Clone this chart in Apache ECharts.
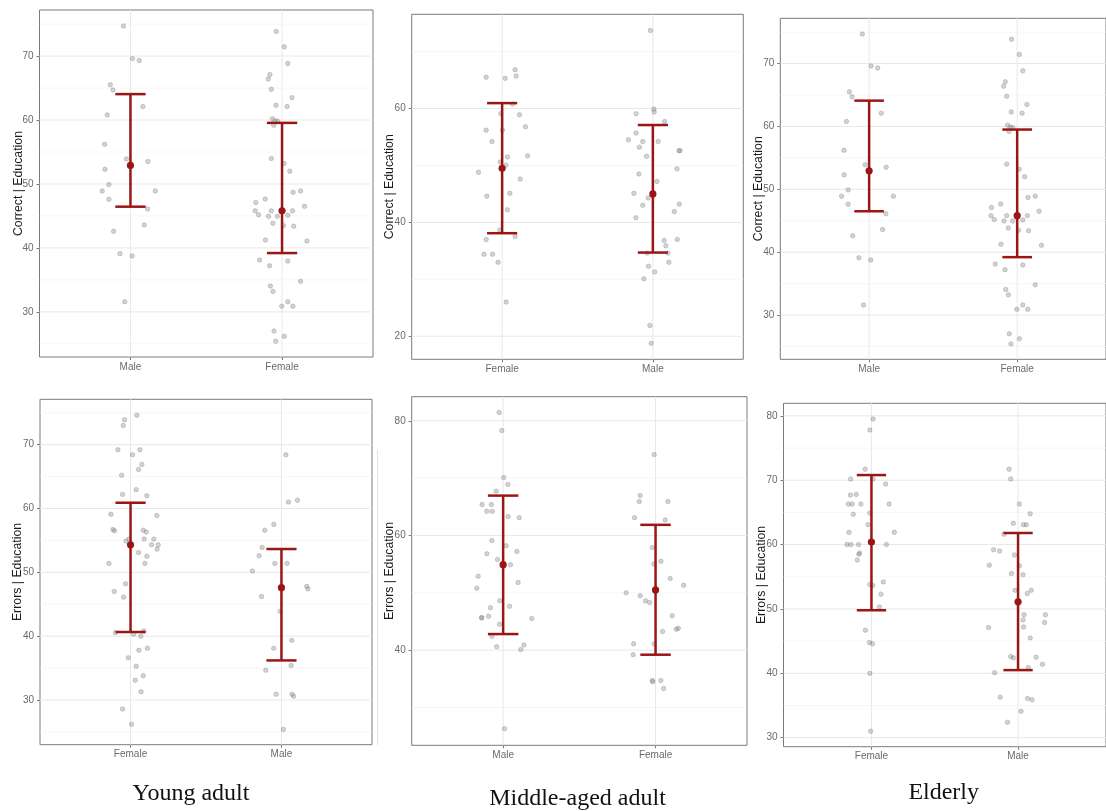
<!DOCTYPE html>
<html><head><meta charset="utf-8">
<script src="https://cdn.jsdelivr.net/npm/echarts@6/dist/echarts.min.js"></script>
<style>html,body{margin:0;padding:0;background:#fff}#c{width:1106px;height:811px}</style>
</head><body><div id="c"></div>
<script>
// ===== DATA =====
// point arrays: [jitter offset from category centre, value]
const youngCorrectCats = ['Male', 'Female'];
const youngCorrectMale = [[-0.046,74.7],[0.013,69.6],[0.058,69.3],[-0.133,65.5],[-0.115,64.7],[-0.153,60.8],[0.082,62.1],[-0.17,56.2],[-0.168,52.3],[-0.027,53.9],[0.115,53.5],[-0.142,49.9],[-0.186,48.9],[0.164,48.9],[-0.142,47.6],[0.113,46.1],[-0.111,42.6],[0.091,43.6],[-0.069,39.1],[0.011,38.75],[-0.038,31.6]];
const youngCorrectFemale = [[-0.038,73.85],[0.015,71.45],[0.038,68.85],[-0.08,67.1],[-0.091,66.4],[-0.071,64.8],[0.066,63.5],[-0.04,62.3],[0.033,62.1],[-0.064,60.2],[-0.046,59.9],[-0.029,59.8],[-0.055,59.2],[-0.071,54.0],[0.013,53.2],[0.051,52.0],[0.073,48.7],[0.122,48.9],[0.148,46.5],[-0.173,47.1],[-0.111,47.65],[-0.177,45.8],[-0.155,45.2],[-0.071,45.8],[-0.089,44.95],[-0.031,44.95],[-0.06,43.85],[0.009,43.5],[0.038,45.1],[0.069,45.8],[0.077,43.4],[0.164,41.1],[-0.109,41.25],[-0.148,38.1],[-0.082,37.2],[0.038,37.95],[0.122,34.8],[-0.077,34.05],[-0.06,33.2],[-0.002,30.9],[0.038,31.6],[0.071,30.9],[-0.053,27.0],[-0.042,25.4],[0.015,26.2]];
const youngCorrectMean = [52.9, 45.8];
const youngCorrectLower = [46.45, 39.2];
const youngCorrectUpper = [64.05, 59.55];
const youngCorrectTicks = [30, 40, 50, 60, 70];

const middleCorrectCats = ['Female', 'Male'];
const middleCorrectFemale = [[-0.106,65.5],[0.02,65.3],[0.086,66.8],[0.093,65.7],[0.069,60.8],[-0.009,59.1],[0.115,58.9],[0.155,56.8],[-0.106,56.2],[0.002,56.2],[-0.067,54.2],[0.035,51.5],[0.169,51.7],[-0.013,50.6],[0.024,50.05],[-0.157,48.8],[0.12,47.6],[-0.102,44.6],[0.051,45.1],[0.035,42.2],[-0.016,38.65],[-0.106,37.0],[0.086,37.5],[-0.12,34.4],[-0.064,34.4],[-0.027,33.0],[0.027,26.0]];
const middleCorrectMale = [[-0.016,73.7],[-0.111,59.1],[0.007,59.9],[0.009,59.4],[0.078,57.7],[-0.111,55.7],[-0.162,54.5],[-0.067,54.2],[0.035,54.2],[-0.089,53.2],[-0.042,51.6],[0.173,52.6],[0.18,52.6],[0.16,49.4],[-0.093,48.5],[0.027,47.2],[-0.126,45.1],[-0.031,44.3],[-0.067,43.0],[0.175,43.2],[0.142,41.9],[-0.113,40.8],[0.075,36.8],[0.162,37.0],[0.086,35.9],[0.1,34.6],[-0.038,34.6],[0.106,33.0],[-0.029,32.3],[0.013,31.3],[-0.06,30.1],[-0.02,21.9],[-0.011,18.75]];
const middleCorrectMean = [49.5, 45.0];
const middleCorrectLower = [38.1, 34.7];
const middleCorrectUpper = [60.95, 57.1];
const middleCorrectTicks = [20, 40, 60];

const elderlyCorrectCats = ['Male', 'Female'];
const elderlyCorrectMale = youngCorrectMale;     // the picture repeats the same panel
const elderlyCorrectFemale = youngCorrectFemale;
const elderlyCorrectMean = [52.95, 45.8];
const elderlyCorrectLower = [46.5, 39.2];
const elderlyCorrectUpper = [64.1, 59.5];
const elderlyCorrectTicks = [30, 40, 50, 60, 70];

const youngErrorsCats = ['Female', 'Male'];
const youngErrorsFemale = [[0.042,74.6],[-0.04,73.9],[-0.048,73.0],[-0.084,69.2],[0.062,69.2],[0.013,68.4],[0.075,66.9],[0.053,66.1],[-0.059,65.2],[0.037,62.95],[-0.053,62.2],[0.108,62.0],[-0.13,59.1],[0.174,58.9],[-0.117,56.7],[-0.106,56.5],[0.084,56.6],[0.104,56.3],[-0.031,54.9],[-0.011,55.2],[0.09,55.2],[0.154,55.2],[0.139,54.3],[0.183,54.3],[0.176,53.65],[0.053,53.1],[0.108,52.5],[0.095,51.4],[-0.143,51.4],[-0.033,48.2],[-0.108,47.0],[-0.046,46.1],[-0.101,40.55],[0.02,40.3],[0.088,40.8],[0.068,40.0],[0.055,37.8],[0.112,38.1],[-0.015,36.6],[0.037,35.3],[0.084,33.8],[0.031,33.1],[0.07,31.3],[-0.053,28.6],[0.007,26.2]];
const youngErrorsMale = [[0.029,68.4],[0.046,61.0],[0.106,61.3],[-0.051,57.5],[-0.11,56.6],[-0.128,53.9],[-0.148,52.6],[-0.044,51.4],[0.037,51.4],[-0.192,50.2],[0.167,47.8],[0.176,47.4],[-0.132,46.2],[-0.009,43.9],[0.068,39.35],[-0.051,38.1],[-0.104,34.65],[0.064,35.4],[-0.035,30.9],[0.07,30.9],[0.081,30.6],[0.013,25.4]];
const youngErrorsMean = [54.3, 47.6];
const youngErrorsLower = [40.65, 36.2];
const youngErrorsUpper = [60.9, 53.65];
const youngErrorsTicks = [30, 40, 50, 60, 70];

const middleErrorsCats = ['Male', 'Female'];
const middleErrorsMale = [[-0.026,81.45],[-0.009,78.3],[0.004,70.1],[0.031,68.9],[-0.046,67.7],[-0.138,65.4],[-0.077,65.4],[-0.107,64.2],[-0.072,64.2],[0.033,63.3],[0.105,63.1],[-0.074,59.1],[0.02,58.2],[0.09,57.2],[-0.107,56.8],[-0.037,55.8],[0.048,54.9],[-0.164,52.9],[-0.173,50.8],[0.098,51.8],[-0.022,48.6],[0.042,47.65],[-0.083,47.4],[-0.142,45.7],[-0.14,45.6],[-0.096,45.9],[0.188,45.5],[-0.024,44.5],[-0.074,42.4],[0.136,40.9],[-0.042,40.6],[0.116,40.1],[0.009,26.3]];
const middleErrorsFemale = [[-0.009,74.1],[-0.101,66.95],[-0.107,65.9],[0.081,65.9],[-0.138,63.1],[0.063,62.7],[-0.022,57.9],[0.035,55.5],[-0.011,55.0],[0.096,52.5],[0.184,51.3],[-0.193,50.0],[-0.101,49.5],[-0.066,48.6],[-0.039,48.3],[0.109,46.0],[0.136,43.65],[0.149,43.8],[0.046,43.25],[-0.144,41.1],[-0.009,41.1],[-0.147,39.2],[-0.022,34.7],[-0.018,34.5],[0.035,34.7],[0.053,33.3]];
const middleErrorsMean = [54.9, 50.5];
const middleErrorsLower = [42.8, 39.2];
const middleErrorsUpper = [66.95, 61.85];
const middleErrorsTicks = [40, 60, 80];

const elderlyErrorsCats = ['Female', 'Male'];
const elderlyErrorsFemale = [[0.011,79.5],[-0.011,77.8],[-0.043,71.7],[-0.142,70.2],[0.011,70.2],[0.097,69.4],[-0.144,67.7],[-0.104,67.8],[-0.158,66.3],[-0.131,66.3],[-0.072,66.3],[0.12,66.3],[-0.124,64.7],[-0.011,64.9],[-0.023,63.1],[-0.153,61.9],[0.156,61.9],[-0.167,60.0],[-0.14,60.0],[-0.088,60.0],[0.102,60.0],[-0.081,58.7],[-0.086,58.5],[-0.097,57.6],[0.081,54.2],[-0.011,53.8],[0.009,53.65],[0.065,52.3],[0.054,50.3],[-0.041,46.7],[-0.014,44.8],[0.007,44.6],[-0.011,40.0],[-0.005,31.0]];
const elderlyErrorsMale = [[-0.061,71.7],[-0.05,70.2],[0.009,66.3],[0.083,64.8],[-0.032,63.3],[0.036,63.1],[0.056,63.1],[-0.097,61.6],[-0.167,59.2],[-0.126,59.0],[-0.025,58.4],[-0.196,56.8],[0.009,56.7],[-0.045,55.5],[0.034,55.3],[-0.02,52.9],[0.09,52.9],[0.063,52.4],[0.041,49.1],[0.187,49.1],[0.034,48.3],[0.181,47.9],[-0.201,47.1],[0.038,47.2],[0.083,45.5],[-0.05,42.6],[-0.032,42.4],[0.124,42.5],[0.167,41.4],[0.07,40.9],[-0.16,40.1],[-0.122,36.3],[0.065,36.1],[0.095,35.9],[0.02,34.1],[-0.072,32.4]];
const elderlyErrorsMean = [60.4, 51.1];
const elderlyErrorsLower = [49.8, 40.5];
const elderlyErrorsUpper = [70.8, 61.8];
const elderlyErrorsTicks = [30, 40, 50, 60, 70, 80];

const correctTitle = 'Correct | Education';
const errorsTitle = 'Errors | Education';
const groupLabels = ['Young adult', 'Middle-aged adult', 'Elderly'];

// ===== PANELS (data references) =====
const panels = [
  {cats: youngCorrectCats, groups: [youngCorrectMale, youngCorrectFemale], mean: youngCorrectMean, lo: youngCorrectLower, hi: youngCorrectUpper, ticks: youngCorrectTicks, title: correctTitle},
  {cats: middleCorrectCats, groups: [middleCorrectFemale, middleCorrectMale], mean: middleCorrectMean, lo: middleCorrectLower, hi: middleCorrectUpper, ticks: middleCorrectTicks, title: correctTitle},
  {cats: elderlyCorrectCats, groups: [elderlyCorrectMale, elderlyCorrectFemale], mean: elderlyCorrectMean, lo: elderlyCorrectLower, hi: elderlyCorrectUpper, ticks: elderlyCorrectTicks, title: correctTitle},
  {cats: youngErrorsCats, groups: [youngErrorsFemale, youngErrorsMale], mean: youngErrorsMean, lo: youngErrorsLower, hi: youngErrorsUpper, ticks: youngErrorsTicks, title: errorsTitle},
  {cats: middleErrorsCats, groups: [middleErrorsMale, middleErrorsFemale], mean: middleErrorsMean, lo: middleErrorsLower, hi: middleErrorsUpper, ticks: middleErrorsTicks, title: errorsTitle},
  {cats: elderlyErrorsCats, groups: [elderlyErrorsFemale, elderlyErrorsMale], mean: elderlyErrorsMean, lo: elderlyErrorsLower, hi: elderlyErrorsUpper, ticks: elderlyErrorsTicks, title: errorsTitle}
];

// ===== LAYOUT / STYLE =====
const layouts = [
  {left: 39.5, top: 10, width: 333.5, height: 347, min: 22.95, max: 77.2, gap: 15},
  {left: 411.7, top: 14.3, width: 331.6, height: 345, min: 15.95, max: 76.55, gap: 16},
  {left: 780.3, top: 18.3, width: 329.3, height: 341, min: 22.95, max: 77.2, gap: 16},
  {left: 40, top: 399.3, width: 332, height: 345.4, min: 23.0, max: 77.1, gap: 16},
  {left: 411.7, top: 396.7, width: 335.3, height: 348.6, min: 23.4, max: 84.2, gap: 16},
  {left: 783.5, top: 403.3, width: 325, height: 343.4, min: 28.6, max: 81.95, gap: 16}
];
const X_MIN = 0.4, X_MAX = 2.6, CAP = 0.1;
const RED = '#9a1616';
const labelPos = [
  {x: 191, y: 793.6}, {x: 577.5, y: 798.4}, {x: 943.7, y: 792.6}
];

const chart = echarts.init(document.getElementById('c'), null, {renderer: 'canvas'});
const grid = [], xAxis = [], yAxis = [], series = [];

panels.forEach((p, i) => {
  const L = layouts[i];
  grid.push({left: L.left, top: L.top, width: L.width, height: L.height, show: true,
    borderColor: '#7a7a7a', borderWidth: 1, backgroundColor: 'transparent', containLabel: false});
  const catVals = p.cats.map((c, k) => k + 1);
  xAxis.push({type: 'value', gridIndex: i, min: X_MIN, max: X_MAX,
    axisLine: {show: false}, splitLine: {show: false},
    axisTick: {show: true, length: 3, customValues: catVals, lineStyle: {color: '#777'}},
    axisLabel: {customValues: catVals, formatter: v => p.cats[Math.round(v) - 1] || '',
      fontSize: 10, color: '#6a6a6a', margin: 5, fontFamily: 'Liberation Sans'}});
  yAxis.push({type: 'value', gridIndex: i, min: L.min, max: L.max,
    name: p.title, nameLocation: 'middle', nameGap: L.gap, nameMoveOverlap: false,
    nameTextStyle: {fontSize: 12.3, color: '#1a1a1a', fontFamily: 'Liberation Sans'},
    axisLine: {show: false}, splitLine: {show: false},
    axisTick: {show: true, length: 3, customValues: p.ticks, lineStyle: {color: '#777'}},
    axisLabel: {customValues: p.ticks, fontSize: 10, color: '#6a6a6a', margin: 6, fontFamily: 'Liberation Sans'}});

  // grid lines: majors at ticks, minors midway
  const step = p.ticks[1] - p.ticks[0];
  const minors = [p.ticks[0] - step / 2].concat(p.ticks.map(t => t + step / 2))
    .filter(v => v > L.min && v < L.max);
  const gl = [];
  minors.forEach(v => gl.push([1, v]));
  p.ticks.forEach(v => gl.push([0, v]));
  catVals.forEach(v => gl.push([2, v]));
  series.push({type: 'custom', xAxisIndex: i, yAxisIndex: i, z: 1, silent: true,
    data: gl,
    renderItem: (params, api) => {
      const k = api.value(0), v = api.value(1);
      let a, b;
      if (k === 2) { a = api.coord([v, L.min]); b = api.coord([v, L.max]); }
      else { a = api.coord([X_MIN, v]); b = api.coord([X_MAX, v]); }
      return {type: 'line', shape: {x1: a[0], y1: a[1], x2: b[0], y2: b[1]},
        style: {stroke: k === 1 ? '#f2f2f2' : '#e8e8e8', lineWidth: k === 1 ? 0.7 : 1}};
    }});

  // jittered points
  const pts = [];
  p.groups.forEach((g, gi) => g.forEach(([off, v]) => pts.push([gi + 1 + off, v])));
  series.push({type: 'scatter', xAxisIndex: i, yAxisIndex: i, z: 2, silent: true,
    data: pts, symbolSize: 4.5,
    itemStyle: {color: 'rgba(125,125,125,0.42)', borderColor: 'rgba(95,95,95,0.45)', borderWidth: 0.7}});

  // mean and interval bars
  const eb = p.cats.map((c, k) => [k + 1, p.mean[k], p.lo[k], p.hi[k]]);
  series.push({type: 'custom', xAxisIndex: i, yAxisIndex: i, z: 3, silent: true,
    data: eb, encode: {x: 0, y: 1},
    renderItem: (params, api) => {
      const x = api.value(0), m = api.value(1), lo = api.value(2), hi = api.value(3);
      const t = api.coord([x, hi]), b = api.coord([x, lo]), c = api.coord([x, m]);
      const tl = api.coord([x - CAP, hi]), tr = api.coord([x + CAP, hi]);
      const bl = api.coord([x - CAP, lo]), br = api.coord([x + CAP, lo]);
      const st = {stroke: RED, lineWidth: 2.5};
      return {type: 'group', children: [
        {type: 'line', shape: {x1: t[0], y1: t[1], x2: b[0], y2: b[1]}, style: st},
        {type: 'line', shape: {x1: tl[0], y1: tl[1], x2: tr[0], y2: tr[1]}, style: st},
        {type: 'line', shape: {x1: bl[0], y1: bl[1], x2: br[0], y2: br[1]}, style: st},
        {type: 'circle', shape: {cx: c[0], cy: c[1], r: 3.6}, style: {fill: RED}}
      ]};
    }});
});

const graphic = groupLabels.map((t, k) => ({
  type: 'text', x: labelPos[k].x, y: labelPos[k].y, silent: true,
  style: {text: t, fontSize: 24, fontFamily: 'Liberation Serif', fill: '#111',
    align: 'center', verticalAlign: 'middle'}
}));
graphic.push({type: 'line', silent: true, shape: {x1: 377.5, y1: 450, x2: 377.5, y2: 745},
  style: {stroke: '#e2e2e2', lineWidth: 1}});

chart.setOption({animation: false, backgroundColor: '#fff', grid, xAxis, yAxis, series, graphic});
</script></body></html>
